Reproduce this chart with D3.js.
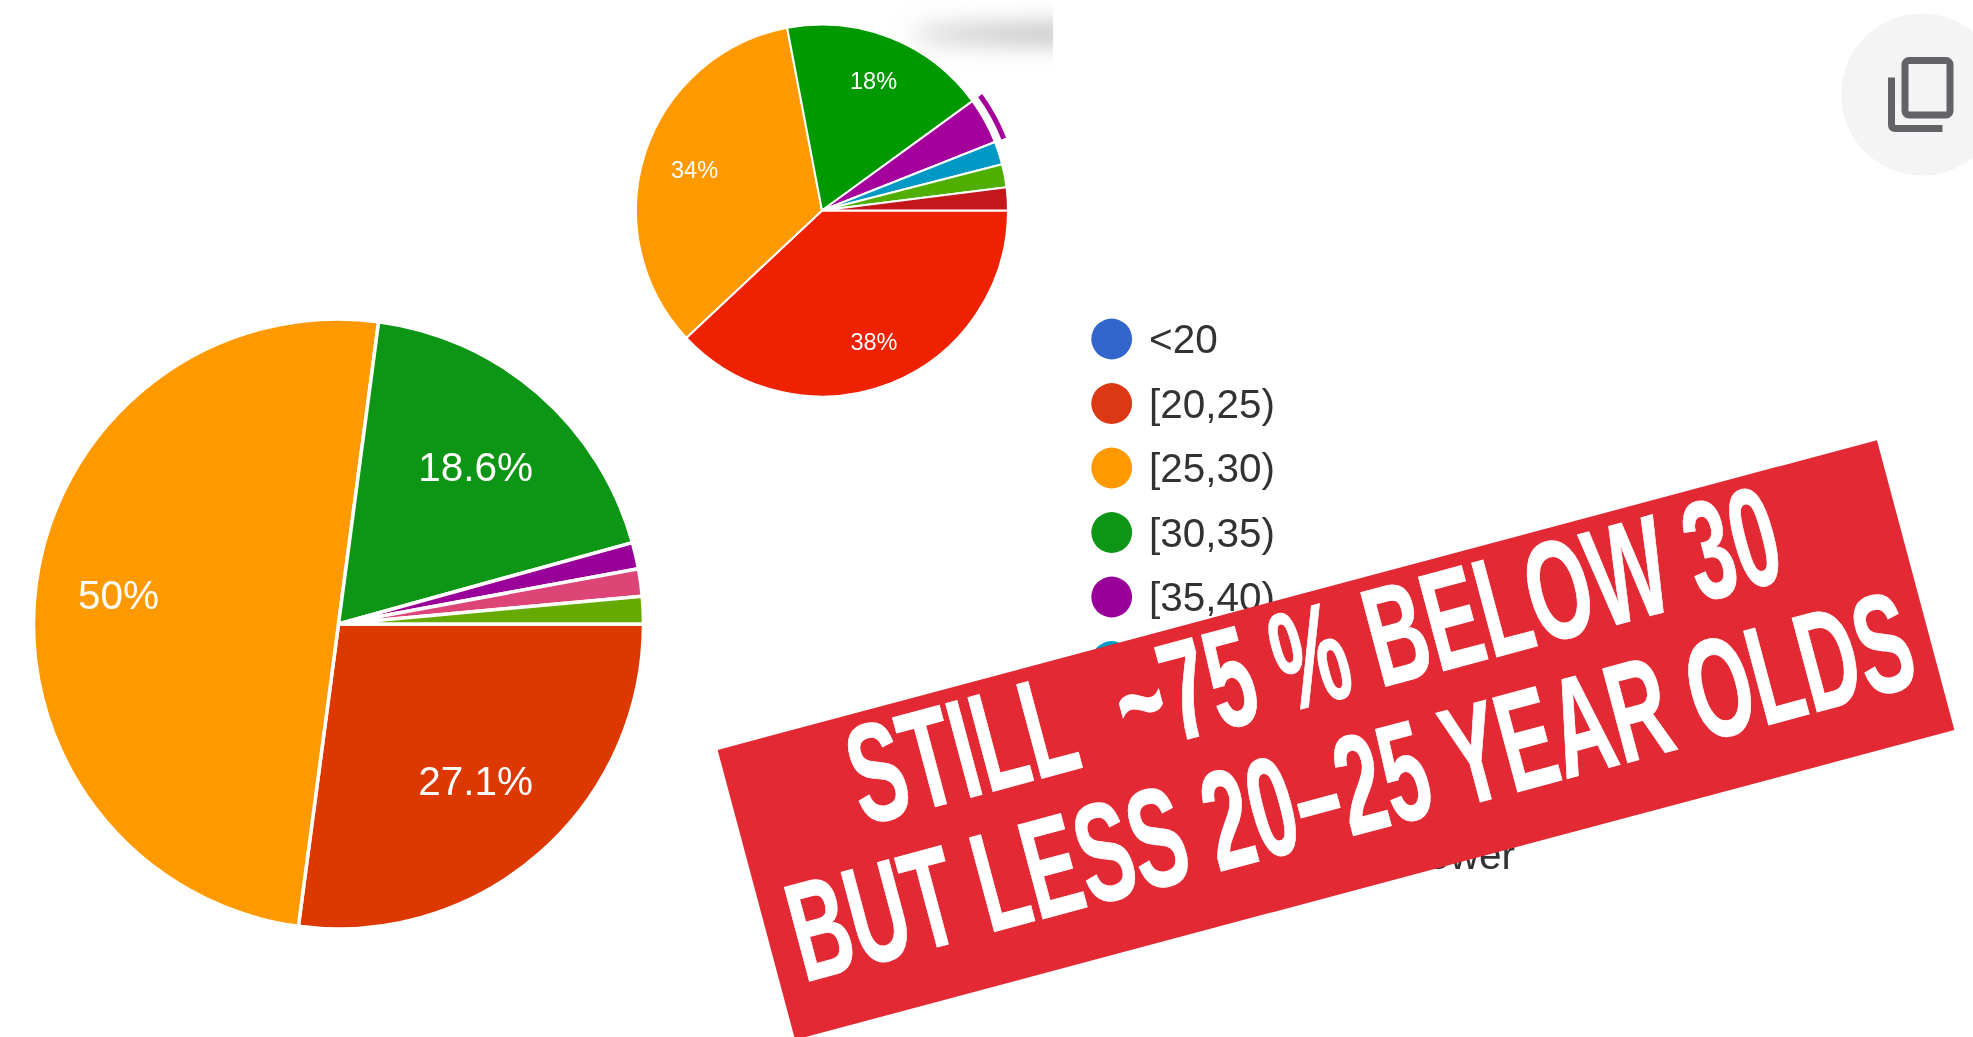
<!DOCTYPE html>
<html>
<head>
<meta charset="utf-8">
<script src="https://cdn.jsdelivr.net/npm/d3@7"></script>
<style>
html,body{margin:0;padding:0;background:#fff;overflow:hidden}
svg{display:block}
text{font-family:"Liberation Sans",Arial,sans-serif}
</style>
</head>
<body>
<script>
// big pie (current survey)
const big_labels=["[20,25)","[25,30)","[30,35)","[35,40)","[45,50)","[50,55)"]
const big_values=[27.1,50,18.6,1.4,1.45,1.45]
const big_colors=["#dc3800","#ff9900","#0e9612","#990099","#dd4477","#66aa00"]
const big_text=["27.1%","50%","18.6%","","",""]

// small pie (earlier survey)
const small_labels=["[20,25)","[25,30)","[30,35)","[35,40)","[40,45)","[50,55)","[55,60)"]
const small_values=[38,34,18,4,2,2,2]
const small_colors=["#ee2000","#ff9900","#009900","#a5009c","#0099c6","#4fae00","#c5181f"]
const small_text=["38%","34%","18%","","","",""]

// legend
const legend_labels=["<20","[20,25)","[25,30)","[30,35)","[35,40)","[40,45)"]
const legend_colors=["#3366cc","#dc3912","#ff9900","#109618","#990099","#0099c6"]
const legend_tail="or lower"

const banner_lines=["STILL\u00a0 ~75 % BELOW 30","BUT LESS 20–25 YEAR OLDS"]

const W=1973,H=1037
const svg=d3.select("body").append("svg").attr("width",W).attr("height",H)
const defs=svg.append("defs")
defs.append("filter").attr("id","blur").attr("x","-30%").attr("y","-300%").attr("width","160%").attr("height","700%")
	.append("feGaussianBlur").attr("stdDeviation",12)
defs.append("filter").attr("id","soft").attr("x","-5%").attr("y","-5%").attr("width","110%").attr("height","110%")
	.append("feGaussianBlur").attr("stdDeviation",0.7)
defs.append("clipPath").attr("id","clip_shadow").append("rect").attr("x",0).attr("y",0).attr("width",1053).attr("height",H)

// grey shadow left over from the screenshot
svg.append("g").attr("clip-path","url(#clip_shadow)")
	.append("ellipse").attr("cx",1130).attr("cy",34).attr("rx",220).attr("ry",8)
	.attr("fill","#a8a8a8").attr("filter","url(#blur)")

// pie runs clockwise starting at 3 o'clock
const pie=d3.pie().sort(null).startAngle(Math.PI/2).endAngle(Math.PI*2.5)

function draw_pie(cx,cy,r,values,colors,text,stroke,fontsize,label_r){
	const g=svg.append("g").attr("transform","translate("+cx+","+cy+")").attr("filter","url(#soft)")
	const arc=d3.arc().innerRadius(0).outerRadius(r)
	const arcs=pie(values)
	g.selectAll("path").data(arcs).enter().append("path")
		.attr("d",arc)
		.attr("fill",(d,i)=>colors[i])
		.attr("stroke","#fff")
		.attr("stroke-width",stroke)
		.attr("stroke-linejoin","round")
	g.selectAll("text").data(arcs).enter().append("text")
		.text((d,i)=>text[i])
		.attr("x",(d,i)=>Math.sin((d.startAngle+d.endAngle)/2)*label_r[i])
		.attr("y",(d,i)=>-Math.cos((d.startAngle+d.endAngle)/2)*label_r[i])
		.attr("dy","0.36em")
		.attr("text-anchor","middle")
		.attr("font-size",fontsize)
		.attr("fill","#fff")
	return {g,arcs}
}

draw_pie(338.5,624,305,big_values,big_colors,big_text,3.5,40.5,[208,222,209,0,0,0])
const small=draw_pie(822,210.5,186,small_values,small_colors,small_text,2,23.5,[141,134,140,0,0,0,0])

// hover ring on the purple slice
small.g.append("path")
	.attr("d",d3.arc().innerRadius(193).outerRadius(198)(small.arcs[3]))
	.attr("fill","#a5009c")

// legend
const legend_y=d3.scalePoint().domain(legend_labels).range([339,661.5])
const legend=svg.append("g").attr("filter","url(#soft)").selectAll("g").data(legend_labels).enter().append("g")
	.attr("transform",d=>"translate(0,"+legend_y(d)+")")
legend.append("circle")
	.attr("cx",1111.7).attr("r",20.4)
	.attr("fill",(d,i)=>legend_colors[i])
legend.append("text")
	.text(d=>d)
	.attr("x",1149).attr("y",14)
	.attr("font-size",40.5)
	.attr("fill","#333")
svg.append("text").text(legend_tail)
	.attr("x",1515).attr("y",869)
	.attr("text-anchor","end")
	.attr("font-size",40.5)
	.attr("fill","#333")
	.attr("filter","url(#soft)")

// copy button
svg.append("circle").attr("cx",1922).attr("cy",94.5).attr("r",81).attr("fill","#f4f4f4")
svg.append("rect").attr("x",1905).attr("y",60.5).attr("width",45).attr("height",54.5).attr("rx",4)
	.attr("fill","none").attr("stroke","#636367").attr("stroke-width",7)
svg.append("path").attr("d","M1891.5,77.5V124.5Q1891.5,128.5 1895.5,128.5H1942.5")
	.attr("fill","none").attr("stroke","#636367").attr("stroke-width",7)

// red banner on top
const banner=svg.append("g").attr("transform","translate(1336,740) rotate(-14.96)")
banner.append("rect").attr("x",-600).attr("y",-150).attr("width",1200).attr("height",300).attr("fill","#e32934")
const banner_len=[958,1157]
const banner_x=[0,2]
const banner_y=[-39,97]
banner.selectAll("text").data(banner_lines).enter().append("text")
	.text(d=>d)
	.attr("x",(d,i)=>banner_x[i])
	.attr("y",(d,i)=>banner_y[i])
	.attr("text-anchor","middle")
	.attr("textLength",(d,i)=>banner_len[i])
	.attr("lengthAdjust","spacingAndGlyphs")
	.attr("font-size",141)
	.attr("font-weight","bold")
	.attr("fill","#fff")
	.attr("stroke","#fff")
	.attr("stroke-width",1)
	.style("font-family",'"Liberation Sans Narrow","Liberation Sans",sans-serif')
</script>
</body>
</html>
